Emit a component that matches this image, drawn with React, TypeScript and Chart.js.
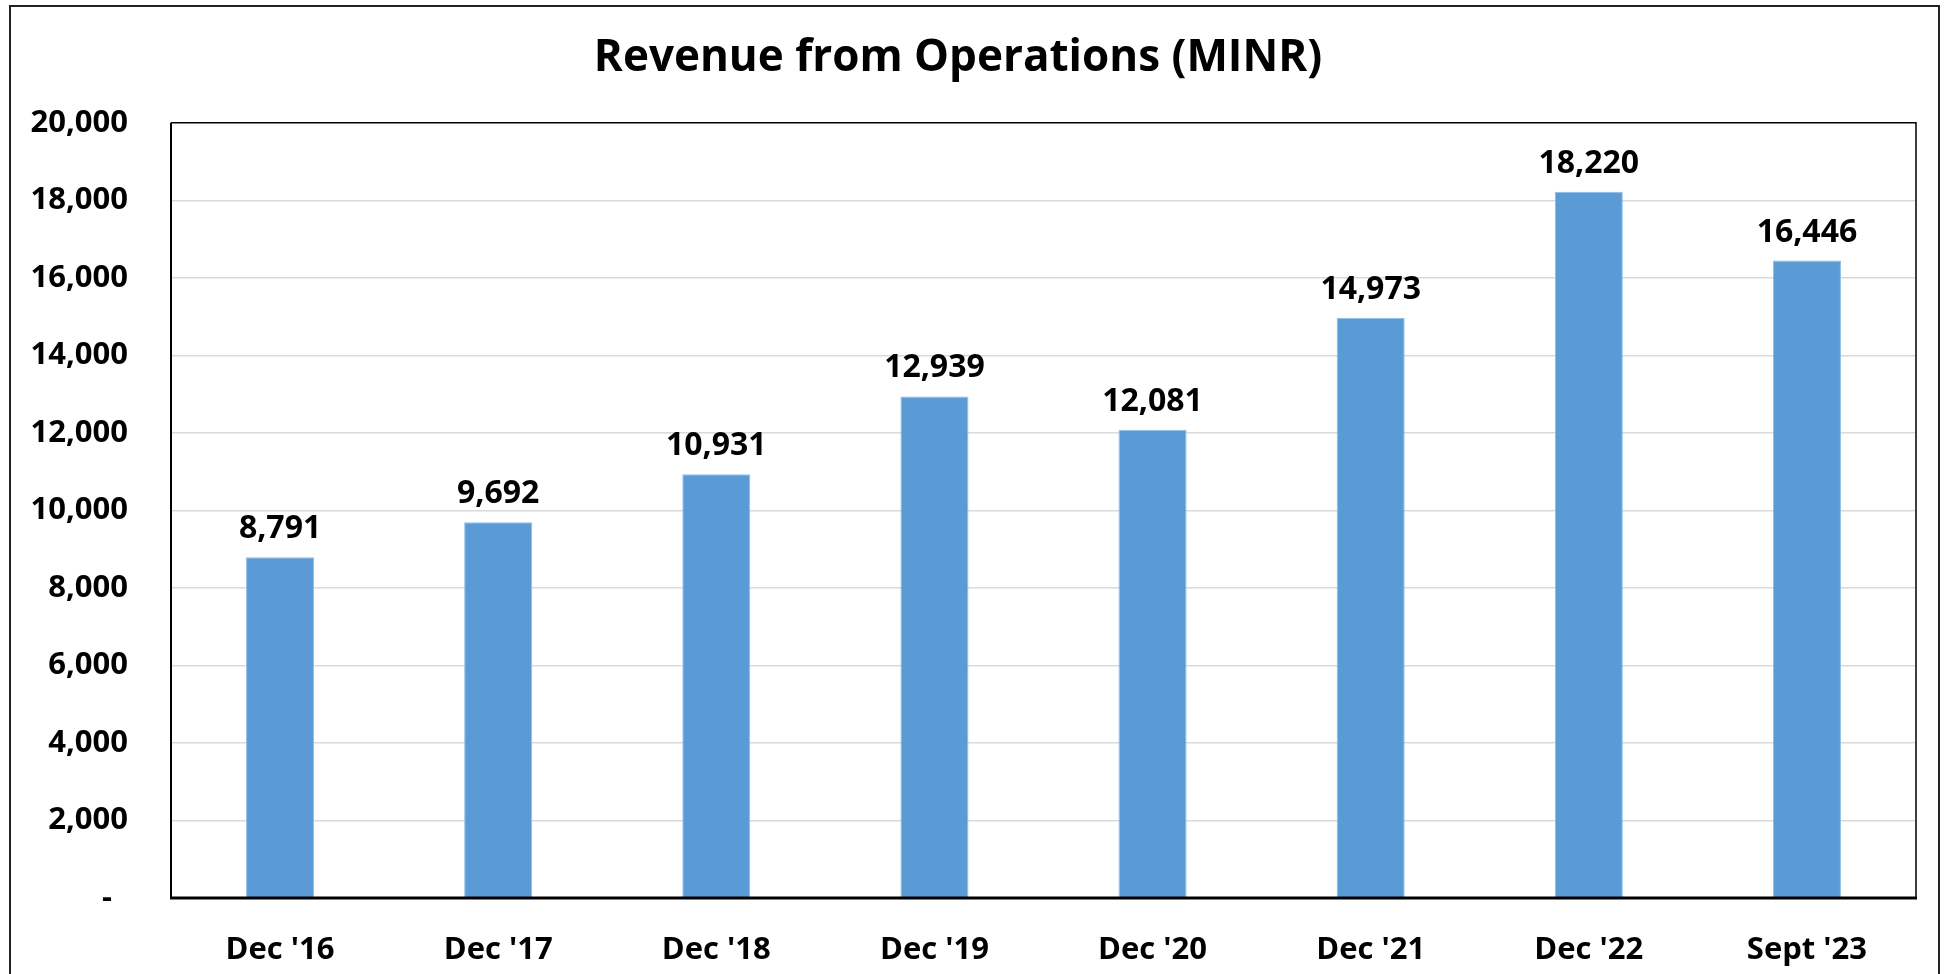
import React, { useEffect, useRef } from "react";
import { Chart, registerables } from "chart.js";

Chart.register(...registerables);

const categories = ["Dec '16", "Dec '17", "Dec '18", "Dec '19", "Dec '20", "Dec '21", "Dec '22", "Sept '23"];
const revenue = [8791, 9692, 10931, 12939, 12081, 14973, 18220, 16446];
const yTickLabels = ["-  ", "2,000", "4,000", "6,000", "8,000", "10,000", "12,000", "14,000", "16,000", "18,000", "20,000"];
const chartTitle = "Revenue from Operations (MINR)";

const FONT = "'Open Sans', 'Noto Sans', sans-serif";

const decorPlugin = {
  id: "decor",
  beforeDraw(chart: any) {
    const ctx = chart.ctx;
    ctx.save();
    ctx.fillStyle = "#ffffff";
    ctx.fillRect(0, 0, chart.width, chart.height);
    ctx.restore();
  },
  afterDatasetsDraw(chart: any) {
    const ctx = chart.ctx;
    const a = chart.chartArea;
    ctx.save();
    ctx.strokeStyle = "#000";
    ctx.lineWidth = 1.5;
    ctx.beginPath();
    ctx.moveTo(a.left, a.top);
    ctx.lineTo(a.right, a.top);
    ctx.lineTo(a.right, a.bottom);
    ctx.stroke();
    ctx.lineWidth = 2;
    ctx.beginPath();
    ctx.moveTo(a.left, a.top);
    ctx.lineTo(a.left, a.bottom);
    ctx.stroke();
    ctx.lineWidth = 3;
    ctx.beginPath();
    ctx.moveTo(a.left - 1, a.bottom);
    ctx.lineTo(a.right + 1, a.bottom);
    ctx.stroke();
    ctx.strokeStyle = "#222";
    ctx.lineWidth = 2;
    ctx.strokeRect(10, 6, 1929, 1000);
    const meta = chart.getDatasetMeta(0);
    ctx.fillStyle = "#000";
    ctx.font = `bold 32px ${FONT}`;
    ctx.textAlign = "center";
    ctx.textBaseline = "alphabetic";
    meta.data.forEach((bar: any, i: number) => {
      const v = chart.data.datasets[0].data[i] as number;
      ctx.fillText(v.toLocaleString("en-US"), bar.x, bar.y - 19);
    });
    ctx.restore();
  },
};

export default function App() {
  const ref = useRef<HTMLCanvasElement>(null);
  useEffect(() => {
    if (!ref.current) return;
    const chart = new Chart(ref.current, {
      type: "bar",
      data: {
        labels: categories,
        datasets: [
          {
            data: revenue,
            backgroundColor: "#5B9BD5",
            borderColor: "#8FBCE6",
            borderWidth: 1,
            barPercentage: 0.312,
            categoryPercentage: 1,
          },
        ],
      },
      plugins: [decorPlugin],
      options: {
        responsive: false,
        animation: false,
        maintainAspectRatio: false,
        layout: { padding: { left: 0, right: 32, top: 0, bottom: 0 } },
        plugins: {
          legend: { display: false },
          tooltip: { enabled: false },
          title: {
            display: true,
            text: chartTitle,
            color: "#000",
            font: { family: FONT, size: 44, weight: "bold", lineHeight: 1.2 },
            padding: { top: 32, bottom: 38 },
          },
        },
        scales: {
          x: {
            grid: { display: false },
            border: { display: false },
            ticks: {
              color: "#000",
              font: { family: FONT, size: 31, weight: "bold" },
              padding: 26,
              maxRotation: 0,
              autoSkip: false,
            },
            afterFit: (s: any) => {
              s.height = 76;
            },
          },
          y: {
            min: 0,
            max: 20000,
            grid: {
              drawTicks: false,
              lineWidth: 1.5,
              color: (c: any) =>
                c.tick && (c.tick.value === 0 || c.tick.value === 20000) ? "rgba(0,0,0,0)" : "#D9D9D9",
            },
            border: { display: false },
            ticks: {
              stepSize: 2000,
              color: "#000",
              font: { family: FONT, size: 31, weight: "bold" },
              padding: 43,
              callback: (_v: any, i: number) => yTickLabels[i],
            },
            afterFit: (s: any) => {
              s.width = 171;
            },
          },
        },
      },
    });
    return () => chart.destroy();
  }, []);
  return (
    <div style={{ position: "absolute", left: 0, top: 0, width: 1948, height: 974, background: "#fff" }}>
      <canvas ref={ref} width={1948} height={974} style={{ display: "block" }} />
    </div>
  );
}
